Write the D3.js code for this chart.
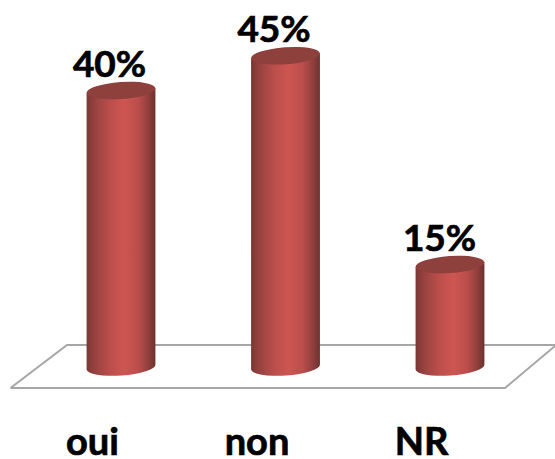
<!DOCTYPE html>
<html>
<head>
<meta charset="utf-8">
<script src="https://cdnjs.cloudflare.com/ajax/libs/d3/7.8.5/d3.min.js"></script>
<style>
  html, body { margin: 0; padding: 0; background: #fff; overflow: hidden; }
  text { font-family: Lato, "Open Sans", sans-serif; font-weight: 700; fill: #000; stroke: #000; stroke-width: 0.7; }
</style>
</head>
<body>
<svg id="chart" width="555" height="459"></svg>
<script>
// Values
const categories = ['oui', 'non', 'NR'];
const values = [40, 45, 15];
const valueLabels = ['40%', '45%', '15%'];

const svg = d3.select('#chart');

const x = d3.scalePoint().domain(categories).range([121, 450]);
const y = d3.scaleLinear().domain([0, 50]).range([369, 21]);

const rx = 34.5, ry = 8.5, tilt = -4;
const dx = rx * Math.cos(tilt * Math.PI / 180);
const dy = rx * Math.sin(tilt * Math.PI / 180);

// Cylinder shading
const defs = svg.append('defs');
const grad = defs.append('linearGradient').attr('id', 'side')
    .attr('x1', 0).attr('x2', 1).attr('y1', 0).attr('y2', 0);
[[0, '#7b3634'], [0.12, '#97423f'], [0.35, '#bd4f4c'], [0.55, '#cd5552'],
 [0.75, '#bb4e4b'], [0.9, '#8f3f3d'], [1, '#6d302e']].forEach(s => {
    grad.append('stop').attr('offset', s[0]).attr('stop-color', s[1]);
});
defs.append('filter').attr('id', 'soft')
    .append('feGaussianBlur').attr('stdDeviation', 0.5);

// Floor of the 3D chart
const floor = d3.path();
floor.moveTo(10.5, 388);
floor.lineTo(67, 345);
floor.lineTo(555, 345);
floor.moveTo(10.5, 388);
floor.lineTo(505, 388);
floor.lineTo(555, 346);
svg.append('path')
    .attr('d', floor.toString())
    .attr('fill', 'none')
    .attr('stroke', '#a6a6a6')
    .attr('stroke-width', 2);

// Cylinders
const bars = svg.selectAll('.bar')
    .data(categories)
    .join('g')
    .attr('class', 'bar')
    .attr('filter', 'url(#soft)');

bars.append('path')
    .attr('fill', 'url(#side)')
    .attr('d', (d, i) => {
        const cx = x(d), top = y(values[i]), base = y(0) - 2;
        return `M${cx - dx},${top - dy}`
            + `L${cx - dx},${base - dy}`
            + `A${rx},${ry} ${tilt} 0 0 ${cx + dx},${base + dy}`
            + `L${cx + dx},${top + dy}Z`;
    });

bars.append('ellipse')
    .attr('rx', rx)
    .attr('ry', ry)
    .attr('fill', '#8e3f3d')
    .attr('transform', (d, i) => `translate(${x(d)},${y(values[i])}) rotate(${tilt})`);

// Percent labels
svg.selectAll('.value')
    .data(categories)
    .join('text')
    .attr('class', 'value')
    .attr('x', d => x(d) + (d === 'NR' ? -10.5 : -11.5))
    .attr('y', (d, i) => y(values[i]) - 14)
    .attr('text-anchor', 'middle')
    .attr('font-size', 37)
    .text((d, i) => valueLabels[i]);

// Category labels
svg.selectAll('.cat')
    .data(categories)
    .join('text')
    .attr('class', 'cat')
    .attr('x', d => x(d) - 28.5)
    .attr('y', 455)
    .attr('text-anchor', 'middle')
    .attr('font-size', 38)
    .text(d => d);
</script>
</body>
</html>
